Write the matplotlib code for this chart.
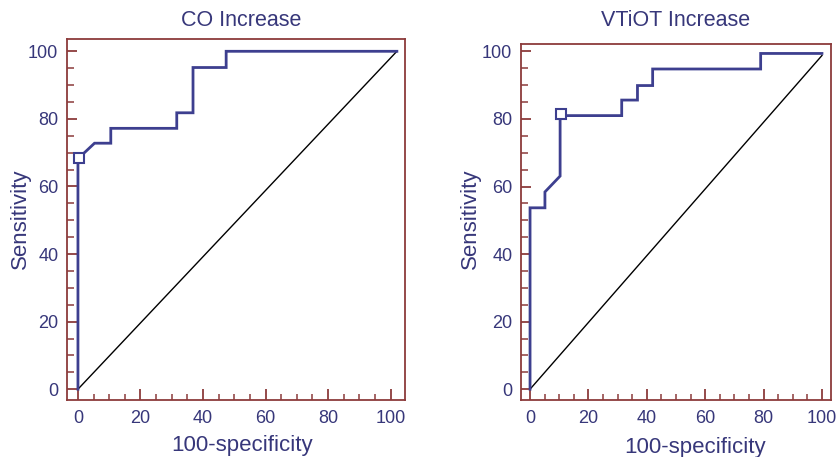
import matplotlib
matplotlib.use("Agg")
import matplotlib.pyplot as plt
from matplotlib.ticker import MultipleLocator

plt.rcParams['font.family'] = ['Liberation Sans', 'DejaVu Sans']

# ---- data ----
co_title = "CO Increase"
co_fpr = [0, 0, 5.3, 10.5, 10.5, 31.6, 31.6, 36.8, 36.8, 47.4, 47.4, 102]
co_tpr = [0, 68.2, 72.8, 72.8, 77.2, 77.2, 81.8, 81.8, 95.2, 95.2, 100, 100]
co_cut = (0.3, 68.4)
co_diag_x = [0, 102]
co_diag_y = [0, 100]

vt_title = "VTiOT Increase"
vt_fpr = [0, 0, 5.1, 5.1, 10.3, 10.3, 31.4, 31.4, 36.8, 36.8, 42.0, 42.0, 79.0, 79.0, 100]
vt_tpr = [0, 53.7, 53.7, 58.4, 63.1, 81.0, 81.0, 85.6, 85.6, 89.9, 89.9, 94.8, 94.8, 99.4, 99.4]
vt_cut = (10.6, 81.6)
vt_diag_x = [0, 100]
vt_diag_y = [0, 98.8]

tick_vals = [0, 20, 40, 60, 80, 100]
xlabel = "100-specificity"
ylabel = "Sensitivity"

# ---- style ----
W, H = 838, 457
TXT = "#37377a"
FRAME = "#8c3b3b"
CURVE = "#3d3f8f"

fig = plt.figure(figsize=(W / 100, H / 100), dpi=100)

def px_axes(l, t, r, b):
    return fig.add_axes([l / W, 1 - b / H, (r - l) / W, (b - t) / H])

panels = [
    dict(box=(66.7, 39.3, 405, 400), xlim=(-3.6, 104.6), ylim=(-3.2, 103.55),
         fpr=co_fpr, tpr=co_tpr, cut=co_cut, dx=co_diag_x, dy=co_diag_y,
         title=co_title, title_x=241.5, xl_x=242, xl_y=445, yl_x=20),
    dict(box=(520.7, 44, 831.3, 400), xlim=(-3.2, 103.2), ylim=(-3.2, 102.2),
         fpr=vt_fpr, tpr=vt_tpr, cut=vt_cut, dx=vt_diag_x, dy=vt_diag_y,
         title=vt_title, title_x=675.5, xl_x=695, xl_y=448, yl_x=470),
]

for p in panels:
    ax = px_axes(*p['box'])
    ax.set_xlim(*p['xlim'])
    ax.set_ylim(*p['ylim'])
    ax.plot(p['dx'], p['dy'], color='black', lw=1.0, zorder=2)
    ax.plot(p['fpr'], p['tpr'], color=CURVE, lw=2.0, solid_joinstyle='miter', zorder=3)
    ax.plot([p['cut'][0]], [p['cut'][1]], marker='s', ms=7, mfc='white',
            mec=CURVE, mew=1.5, zorder=4)
    for s in ax.spines.values():
        s.set_color(FRAME)
        s.set_linewidth(1.3)
    ax.set_xticks(tick_vals)
    ax.set_yticks(tick_vals)
    ax.xaxis.set_minor_locator(MultipleLocator(5))
    ax.yaxis.set_minor_locator(MultipleLocator(5))
    ax.tick_params(axis='both', which='both', direction='in', color=FRAME,
                   labelcolor=TXT, labelsize=13, top=False, right=False)
    ax.tick_params(axis='x', which='major', length=8, width=1.3, pad=7)
    ax.tick_params(axis='x', which='minor', length=4, width=1.1)
    ax.tick_params(axis='y', which='major', length=7, width=1.3, pad=6)
    ax.tick_params(axis='y', which='minor', length=5, width=1.1)
    fig.text(p['title_x'] / W, 1 - 20 / H, p['title'], color=TXT, fontsize=15.5,
             ha='center', va='center')
    fig.text(p['xl_x'] / W, 1 - p['xl_y'] / H, xlabel, color=TXT, fontsize=16,
             ha='center', va='center')
    fig.text(p['yl_x'] / W, 1 - 219 / H, ylabel, color=TXT, fontsize=16,
             ha='center', va='center', rotation=90)

fig.savefig("out.png", dpi=100)
